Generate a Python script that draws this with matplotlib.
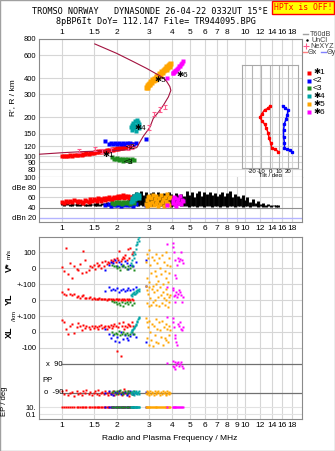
import matplotlib
matplotlib.use("Agg")
import matplotlib.pyplot as plt
import numpy as np
from matplotlib.ticker import NullLocator
from matplotlib.patches import Rectangle

plt.rcParams['font.family'] = ['Liberation Sans', 'DejaVu Sans']

# ---- frequency axis ticks ----
top_ticks = [1, 1.5, 2, 3, 4, 5, 6, 7, 8, 10, 12, 14, 16, 18]
bot_ticks = [1, 1.5, 2, 3, 4, 5, 6, 7, 8, 9, 10, 12, 14, 16, 18]
h_ticks = [80, 90, 100, 120, 150, 200, 300, 400, 600, 800]

# ---- plasma frequency profile (f MHz, real height km) ----
prof_f = [0.75, 1.02, 1.31, 1.61, 1.99, 2.35, 2.56, 2.67, 2.78, 2.90, 3.02, 3.15, 3.37, 3.58,
          3.81, 3.93, 3.88, 3.73, 3.58, 3.43, 2.90, 2.45, 1.99, 1.51]
prof_h = [104, 107, 109, 110, 111, 113, 117, 130, 143, 155, 168, 196, 220, 248,
          287, 322, 345, 377, 400, 416, 475, 536, 620, 733]

# NeXYZ points with height error
ne_f = [1.24, 1.51, 1.65, 1.85, 2.30, 2.42, 2.97, 3.18, 3.43, 3.66]
ne_h = [111, 114, 110, 112, 118, 119, 167, 212, 228, 240]
ne_err = [4, 4, 4, 4, 5, 5, 7, 9, 10, 10]

# ---- tilt inset ----
tilt_h_x = [245, 234, 228, 212, 200, 188, 177, 165, 151, 138, 126, 115, 113, 109]
tilt_x = [0, -2, -6, -9, -11, -9, -6, -4, -2, -1, 1, 2, 6, 9]
tilt_h_y = [245, 234, 228, 208, 195, 179, 160, 142, 126, 115, 113, 111, 109]
tilt_y = [14, 17, 20, 19, 18, 16, 15, 15, 16, 16, 19, 22, 24]

# ---- T60dB amplitude bars ----
db_f = [1.00, 1.03, 1.07, 1.10, 1.14, 1.17, 1.21, 1.25, 1.29, 1.33,
        1.37, 1.42, 1.46, 1.51, 1.56, 1.61, 1.66, 1.72, 1.77, 1.83,
        1.89, 1.95, 2.01, 2.08, 2.15, 2.22, 2.29, 2.36, 2.44, 2.52,
        2.60, 2.69, 2.77, 2.86, 2.96, 3.05, 3.15, 3.26, 3.36, 3.47,
        3.59, 3.70, 3.83, 3.95, 4.08, 4.21, 4.35, 4.49, 4.64, 4.79,
        4.94, 5.10, 5.27, 5.44, 5.62, 5.80, 5.99, 6.19, 6.39, 6.60,
        6.81, 7.03, 7.26, 7.50, 7.74, 8.00, 8.26, 8.53, 8.80, 9.09,
        9.39, 9.69, 10.0, 10.3, 10.7, 11.0, 11.4, 11.8, 12.2, 12.6,
        13.0, 13.4, 13.8, 14.3, 14.7, 15.2]
db_hi = [50, 49, 51, 48, 50, 47, 49, 48, 50, 47,
         48, 50, 47, 49, 51, 48, 50, 49, 52, 48,
         50, 49, 51, 52, 50, 53, 55, 60, 66, 70,
         68, 72, 65, 70, 62, 69, 71, 64, 70, 66,
         68, 63, 70, 67, 61, 69, 64, 66, 62, 72,
         65, 70, 60, 68, 73, 62, 70, 66, 71, 64,
         69, 62, 67, 70, 63, 68, 72, 61, 66, 63,
         58, 64, 55, 60, 52, 57, 50, 53, 48, 49,
         46, 47, 45, 46, 45, 45]
db_lo = [45, 44, 45, 43, 44, 45, 43, 44, 45, 44,
         44, 43, 45, 44, 43, 44, 45, 43, 44, 43,
         44, 43, 44, 45, 43, 44, 45, 44, 46, 45,
         44, 45, 43, 44, 42, 43, 44, 45, 43, 44,
         43, 45, 44, 42, 44, 43, 45, 44, 43, 44,
         42, 44, 43, 41, 44, 43, 42, 44, 43, 42,
         43, 44, 42, 43, 44, 42, 43, 44, 42, 43,
         43, 42, 44, 43, 42, 44, 43, 42, 43, 42,
         42, 43, 42, 43, 42, 42]

# ---- echo classes: f, virtual height, amplitude, V*, YL, XL, PP, EP ----
f_r = [1.00, 1.02, 1.05, 1.08, 1.10, 1.13, 1.16, 1.20, 1.22, 1.25, 1.28, 1.30, 1.33, 1.36, 1.40, 1.43,
       1.46, 1.50, 1.52, 1.55, 1.58, 1.60, 1.63, 1.66, 1.69, 1.72, 1.75, 1.78, 1.81, 1.84, 1.87, 1.90,
       1.93, 1.96, 2.00, 2.03, 2.06, 2.09, 2.12, 2.15, 2.18, 2.21, 2.25, 2.28, 2.32, 2.36, 2.40, 2.44]
h_r = [101, 100, 101, 100, 102, 101, 103, 102, 103, 104, 103, 105, 104, 106, 105, 107,
       106, 107, 109, 108, 110, 108, 110, 109, 111, 110, 112, 111, 113, 112, 114, 113,
       115, 114, 116, 115, 117, 116, 118, 117, 119, 118, 120, 119, 121, 122, 124, 123]
dB_r = [52, 50, 53, 51, 54, 52, 55, 53, 51, 54, 52, 50, 55, 53, 51, 56,
        54, 57, 55, 53, 58, 56, 54, 57, 59, 55, 58, 56, 60, 57, 55, 59,
        61, 58, 60, 62, 59, 63, 61, 64, 58, 62, 60, 63, 59, 61, 57, 60]
V_r = [8, -20, 127, -40, 30, -60, 15, -5, -15, 25, -30, 106, 50, -25, -10, 15,
       5, 20, -5, 30, 10, 20, 0, 35, 15, 45, 25, 40, 30, 50, 35, 45,
       55, 40, 60, 50, 106, 45, 55, 70, 60, 80, 50, 120, 65, 123, 90, 100]
YL_r = [48, 40, 30, 69, 35, 30, 38, 20, 25, 15, 22, 30, 15, 10, 12, 20,
        8, 10, 5, 8, 6, 10, 4, 6, 8, 5, 3, 6, 4, 7, 2, 5,
        3, 6, 4, 2, 5, 3, 6, 2, 4, 1, 5, 3, 6, 2, 4, 3]
XL_r = [75, 60, 20, -10, 40, 50, -5, 30, 55, 35, 10, 45, 25, 40, 30, 20,
        35, 25, 40, 30, 20, 35, 45, 25, 30, 40, 20, 35, 30, 45, 25, 40,
        50, 35, -117, 30, 55, -150, 35, 60, 20, 40, 30, 50, 45, 35, 60, 40]
PP_r = [-80, -95, -70, -100, -90, -85, -110, -75, -95, -90, -100, -80, -90, -70, -95, -85,
        -105, -90, -80, -95, -70, -100, -90, -85, -95, -75, -90, -100, -85, -95, -90, -80,
        -100, -90, -85, -95, -75, -90, -100, -85, -65, -90, -95, -80, -110, -90, -85, -95]
EP_r = [10, 9, 10, 11, 10, 9, 10, 10, 11, 9, 10, 10, 9, 10, 11, 10,
        10, 9, 10, 11, 10, 9, 10, 10, 11, 10, 9, 10, 10, 11, 9, 10,
        10, 11, 10, 9, 10, 10, 9, 11, 10, 10, 9, 10, 11, 10, 9, 10]

f_b = [1.72, 1.80, 1.86, 1.90, 1.95, 2.00, 2.05, 2.10, 2.15, 2.20, 2.25, 2.30, 2.35, 2.45, 2.55, 2.88]
h_b = [132, 125, 127, 124, 126, 125, 127, 124, 126, 125, 127, 124, 126, 125, 127, 135]
dB_b = [45, 47, 44, 48, 46, 45, 47, 44, 46, 48, 45, 47, 46, 44, 48, 46]
V_b = [-12, 20, 40, 30, 50, 10, 35, 25, 15, 45, 30, -5, 20, 10, 40, 50]
YL_b = [55, 80, 60, 70, 65, 75, 50, 60, 70, 55, 65, 75, 60, 70, 80, 85]
XL_b = [20, -10, -40, -20, -55, -30, -60, 0, -45, -20, -35, -50, -25, -10, -30, -60]
PP_b = [-90, -80, -95, -100, -85, -90, -75, -95, -90, -85, -100, -90, -80, -95, -90, -85]
EP_b = [10, 11, 10, 9, 10, 10, 11, 10, 9, 10, 10, 11, 10, 9, 10, 10]

f_g = [1.88, 1.92, 1.96, 2.00, 2.04, 2.08, 2.12, 2.16, 2.20, 2.25, 2.30, 2.35, 2.40, 2.48]
h_g = [99, 96, 95, 97, 94, 95, 96, 93, 95, 94, 96, 93, 95, 94]
dB_g = [50, 48, 51, 49, 52, 50, 48, 51, 49, 52, 50, 48, 51, 49]
V_g = [20, 10, 15, 0, 5, -10, 15, 20, 5, -5, 10, 0, 15, -10]
YL_g = [-5, -15, -10, -25, -20, -30, -15, -35, -20, -10, -25, -15, -30, -20]
XL_g = [0, -10, -5, -15, 5, -20, -10, 0, -15, -5, -20, -10, 0, -15]
PP_g = [-85, -75, -95, -80, -90, -70, -85, -95, -80, -90, -75, -85, -95, -80]
EP_g = [10, 9, 10, 11, 10, 10, 9, 10, 11, 10, 10, 9, 10, 10]

f_t = [2.38, 2.40, 2.42, 2.44, 2.46, 2.48, 2.50, 2.52, 2.54, 2.56, 2.58, 2.60, 2.62, 2.64]
h_t = [168, 175, 160, 182, 170, 165, 188, 158, 176, 192, 172, 185, 166, 178]
dB_t = [52, 55, 58, 54, 60, 62, 57, 64, 59, 66, 61, 63, 58, 65]
V_t = [30, 50, 20, 80, 60, 100, 90, 120, 143, 160, 150, 180, 195, 170]
YL_t = [30, 35, 25, 45, 40, 50, 35, 55, 45, 60, 50, 65, 55, 70]
XL_t = [0, 10, 15, 20, 30, 25, 40, 50, 45, 60, 70, 80, 85, 95]
PP_t = [-90, -85, -95, -80, -90, -100, -85, -90, -75, -95, -90, -85, -80, -95]
EP_t = [10, 10, 9, 11, 10, 10, 9, 10, 11, 10, 9, 10, 10, 11]

f_o = [2.88, 2.90, 2.92, 2.95, 2.98, 3.00, 3.03, 3.06, 3.10, 3.13, 3.16, 3.20, 3.24, 3.28, 3.32,
       3.36, 3.40, 3.44, 3.48, 3.52, 3.56, 3.60, 3.64, 3.68, 3.72, 3.76, 3.80, 3.84, 3.86, 3.88]
h_o = [345, 355, 340, 362, 370, 358, 380, 372, 392, 385, 400, 395, 412, 405, 425,
       418, 440, 432, 455, 448, 462, 470, 478, 472, 492, 488, 505, 515, 500, 525]
dB_o = [48, 55, 44, 60, 50, 63, 46, 58, 52, 65, 45, 57, 49, 62, 53,
        44, 59, 47, 64, 51, 56, 43, 61, 48, 54, 66, 50, 58, 46, 60]
V_o = [40, 90, -60, 60, -90, 110, 20, -30, 70, -110, 50, -20, 90, -50, 30,
       -80, 60, 0, -40, 80, -100, 40, -20, 100, -60, 20, -90, 60, -30, 10]
YL_o = [90, 60, -20, 40, -40, 80, 10, -30, 70, -10, 50, 0, 100, -30, 60,
        20, -40, 80, 30, -20, 50, 10, -30, 70, 0, 40, -45, 20, -10, 30]
XL_o = [90, 60, -40, 30, -80, 70, 0, -50, 50, -90, 40, -20, 80, -60, 20,
        -70, 60, 10, -30, 70, -80, 30, -40, 50, -50, 20, -60, 40, -20, 10]
PP_o = [-90, -80, -95, -85, -100, -90, -75, -95, -85, -90, -100, -80, -90, -95, -85,
        -75, -90, -100, -85, -95, -80, -90, -85, -95, -100, -80, -90, -85, -95, -90]
EP_o = [10, 9, 10, 8, 10, 11, 9, 10, 10, 8, 10, 9, 11, 10, 9,
        10, 8, 10, 10, 9, 11, 10, 9, 10, 8, 10, 10, 9, 10, 11]

f_m = [3.75, 4.02, 4.05, 4.08, 4.12, 4.16, 4.20, 4.25, 4.30, 4.35, 4.40, 4.45, 4.50, 4.55]
h_m = [400, 435, 440, 445, 450, 455, 460, 470, 480, 492, 500, 512, 525, 540]
dB_m = [45, 55, 50, 60, 48, 58, 44, 52, 57, 50, 62, 47, 55, 53]
V_m = [150, 154, 133, 102, 50, -44, -65, 19, 60, 45, 55, 100, 50, 30]
YL_m = [79, 75, 60, 27, -15, 30, 50, 20, 40, 60, 50, 30, -10, 20]
XL_m = [95, 90, 60, 30, -20, -40, -60, -80, 50, 40, 60, 20, 10, 30]
PP_m = [95, 110, 80, 70, 100, 60, 85, 95, 105, 75, 90, 100, 80, 65]
EP_m = [10, 11, 10, 12, 10, 11, 10, 10, 12, 11, 10, 11, 10, 12]

classes = [
    ('red', '\u27311', f_r, h_r, dB_r, V_r, YL_r, XL_r, PP_r, EP_r),
    ('#0000ff', '<2', f_b, h_b, dB_b, V_b, YL_b, XL_b, PP_b, EP_b),
    ('#1e8c1e', '<3', f_g, h_g, dB_g, V_g, YL_g, XL_g, PP_g, EP_g),
    ('#00a5a5', '\u27314', f_t, h_t, dB_t, V_t, YL_t, XL_t, PP_t, EP_t),
    ('#ffa500', '\u27315', f_o, h_o, dB_o, V_o, YL_o, XL_o, PP_o, EP_o),
    ('#ff00ff', '\u27316', f_m, h_m, dB_m, V_m, YL_m, XL_m, PP_m, EP_m),
]
# marker size of each class in the height panel
h_ms = [2.4, 2.4, 2.4, 3.4, 3.6, 2.8]
# label positions of the echo classes in the height panel
lab_f = [1.80, 2.36, 2.30, 2.66, 3.45, 4.55]
lab_h = [102, 118, 90, 163, 385, 420]

W, H = 335, 451
F0, F1 = 0.7485, 20.45
GRID = '#d6d6d6'
SPINE = '#8a8a8a'

fig = plt.figure(figsize=(W / 100, H / 100), dpi=100)


def px_axes(x0, y0, x1, y1):
    return fig.add_axes([x0 / W, 1 - y1 / H, (x1 - x0) / W, (y1 - y0) / H])


def ptext(x, y, s, **kw):
    kw.setdefault('ha', 'center')
    kw.setdefault('va', 'center')
    kw.setdefault('fontsize', 6)
    return fig.text(x / W, 1 - y / H, s, **kw)


def freq_axis(ax, ticks, where):
    ax.set_xscale('log')
    ax.set_xlim(F0, F1)
    ax.set_xticks(ticks, [str(t) for t in ticks])
    ax.xaxis.set_minor_locator(NullLocator())
    for t in ticks:
        ax.axvline(t, color=GRID, lw=0.8, zorder=0)
    if where == 'top':
        ax.xaxis.tick_top()
    ax.tick_params(axis='x', length=0, pad=2, labelsize=6)
    ax.tick_params(axis='y', length=0, pad=2, labelsize=5.5)
    for s in ax.spines.values():
        s.set_color(SPINE)
        s.set_linewidth(0.8)


# ---------------- height panel ----------------
ax_h = px_axes(39, 39, 302, 177)
freq_axis(ax_h, top_ticks, 'top')
ax_h.set_yscale('log')
ax_h.set_ylim(69.5, 800)
ax_h.set_yticks(h_ticks, [str(t) for t in h_ticks])
ax_h.yaxis.set_minor_locator(NullLocator())
for t in h_ticks:
    ax_h.axhline(t, color=GRID, lw=0.8, zorder=0)

for (c, lab, f, h, *_), ms in zip(classes, h_ms):
    ax_h.plot(f, h, 's', color=c, ms=ms, mec='none', zorder=3)
for (c, lab, *_), lf, lh in zip(classes, lab_f, lab_h):
    ax_h.text(lf, lh, lab, fontsize=6, color='black', ha='center', va='center', zorder=5)
ax_h.plot(prof_f, prof_h, color='#a3123f', lw=0.8, zorder=4)
ax_h.errorbar(ne_f, ne_h, yerr=ne_err, fmt='none', ecolor='#ff5c8d', elinewidth=0.8,
              capsize=1.3, capthick=0.8, zorder=4)

# tilt inset
ax_t = px_axes(242, 65, 298, 168)
ax_t.set_facecolor('none')
ax_t.set_xlim(-31, 31)
ax_t.set_yscale('log')
ax_t.set_ylim(81.4, 504.8)
ax_t.yaxis.set_minor_locator(NullLocator())
ax_t.set_yticks([])
ax_t.set_xticks([-20, -10, 0, 10, 20], ['-20', '-10', '0', '10', '20'])
ax_t.tick_params(axis='x', length=0, pad=0.5, labelsize=4.3)
ax_t.set_xlabel('Tilt / deg', fontsize=4.3, labelpad=-0.5)
for t in [-20, -10, 0, 10, 20]:
    ax_t.axvline(t, color='#b4b4b4', lw=0.8, zorder=0)
for s in ax_t.spines.values():
    s.set_color('#a8a8a8')
    s.set_linewidth(0.8)
ax_t.plot(tilt_x, tilt_h_x, 's-', color='red', ms=1.4, lw=1.1)
ax_t.plot(tilt_y, tilt_h_y, 's-', color='#0000ff', ms=1.4, lw=1.1)

# ---------------- amplitude panel ----------------
ax_d = px_axes(39, 177, 302, 222)
freq_axis(ax_d, bot_ticks, 'bottom')
ax_d.set_ylim(12, 100)
ax_d.set_yticks([100, 80, 60, 40, 20], ['100', 'dBe 80', '60', '40', 'dBn 20'])
ax_d.spines['top'].set_visible(False)
ax_d.axhline(80, color='#b8b8b8', lw=0.8, zorder=0)
ax_d.axhline(60, color=GRID, lw=0.8, zorder=0)
ax_d.axhline(40, color='#909090', lw=0.8, zorder=0)
ax_d.axhline(20, color='#b4b4ff', lw=1.0, zorder=0)
ax_d.vlines(db_f, db_lo, db_hi, color='black', lw=2.1, zorder=2)
for c, lab, f, h, dB, *_ in classes:
    ax_d.plot(f, dB, 's', color=c, ms=2.3, mec='none', zorder=3)

# ---------------- drift / position / polarisation panel ----------------
ax_l = px_axes(39, 237, 302, 419)
freq_axis(ax_l, bot_ticks, 'bottom')
ax_l.set_ylim(-9.44, 1.94)


def pp_y(pp):
    return -6 - (90 - np.asarray(pp)) / 180 * 1.81


def ep_y(ep):
    return -8.69 + (np.log10(np.asarray(ep)) - 1) * 0.219


ytk = [1, 0, -1, -2, -3, -4, -5, float(ep_y(10)), float(ep_y(0.1))]
ax_l.set_yticks(ytk, ['100', '0', '+-100', '0', '+-100', '0', '-100', '10.', '0.1'])
for t in [1, 0, -1, -2, -3, -4, -5]:
    ax_l.axhline(t, color=GRID, lw=0.8, zorder=0)
ax_l.axhline(ep_y(10), color='#e2e2e2', lw=0.8, zorder=0)
ax_l.axhline(ep_y(0.1), color='#e2e2e2', lw=0.8, zorder=0)
ax_l.plot([1, F1], [-6, -6], color='#707070', lw=0.9, zorder=1)
ax_l.plot([1, F1], [pp_y(-90), pp_y(-90)], color='#707070', lw=0.9, zorder=1)

for c, lab, f, h, dB, V, YL, XL, PP, EP in classes:
    kw = dict(color=c, ms=2.1, mec='none', ls='none', marker='s', zorder=3)
    ax_l.plot(f, np.array(V) / 100, **kw)
    ax_l.plot(f, np.array(YL) / 100 - 2, **kw)
    ax_l.plot(f, np.array(XL) / 100 - 4, **kw)
    ax_l.plot(f, pp_y(PP), **kw)
    ax_l.plot(f, ep_y(EP), **kw)

# ---------------- texts ----------------
mono = 'DejaVu Sans Mono'
ptext(150, 12, 'TROMSO NORWAY   DYNASONDE 26-04-22 0332UT 15\u00b0E', family=mono, fontsize=6.1)
ptext(156, 21, '8pBP6It DoY= 112.147 File= TR944095.BPG', family=mono, fontsize=6.1)
ptext(303, 7.5, 'HPTx is OFF!', family=mono, fontsize=5.9, color='red',
      bbox=dict(boxstyle='square,pad=0.25', fc='yellow', ec='red', lw=1))

ptext(13, 98, "R', R / km", rotation=90, fontsize=6)
ptext(9, 267, 'V*', rotation=90, fontsize=6.5, fontweight='bold')
ptext(9, 254, 'm/s', rotation=90, fontsize=4.5)
ptext(9, 299, 'YL', rotation=90, fontsize=6.5, fontweight='bold')
ptext(15, 316, '/km', rotation=90, fontsize=4.5)
ptext(9, 332, 'XL', rotation=90, fontsize=6.5, fontweight='bold')
ptext(5, 401, 'EP / deg', rotation=90, fontsize=5.5)
ptext(54, 364, 'x  90', fontsize=5.5)
ptext(42, 380, 'PP', fontsize=5.5, ha='left')
ptext(54, 393, 'o  -90', fontsize=5.5)
ptext(170, 439, 'Radio and Plasma Frequency / MHz', fontsize=6)

# legend
ax_g = px_axes(302, 28, 335, 120)
ax_g.set_xlim(302, 335)
ax_g.set_ylim(120, 28)
ax_g.axis('off')
ax_g.plot([303, 308], [34, 34], color='#a0a0a0', lw=1)
ax_g.text(310, 34, 'T60dB', fontsize=5.2, va='center', color='#404040')
ax_g.plot([306.5], [40], '.', color='black', ms=1.5)
ax_g.text(312, 40, 'UnCl', fontsize=5.2, va='center', color='#404040')
ax_g.plot([305.5], [46], '+', color='#ff5c8d', ms=4, mew=0.8)
ax_g.text(310, 46, 'NeXYZ', fontsize=5.2, va='center', color='#404040')
ax_g.plot([303, 307], [52, 52], color='#ff8080', lw=1)
ax_g.text(307.5, 52, '\u0398x', fontsize=5.2, va='center', color='#404040')
ax_g.plot([321, 326], [52, 52], color='#8080ff', lw=1)
ax_g.text(326.5, 52, '\u0398y', fontsize=5.2, va='center', color='#404040')
for (c, lab, *_), ly in zip(classes, [73, 81, 88, 96, 104, 112]):
    ax_g.plot([308.5], [ly], 's', color=c, ms=2.4, mec='none')
    ax_g.text(313, ly, lab, fontsize=6, va='center', color='black')

fig.patches.append(Rectangle((0, 0), 1, 1, transform=fig.transFigure, fill=False,
                             ec='#a0a0a0', lw=1))

fig.savefig('out.png', dpi=100)
